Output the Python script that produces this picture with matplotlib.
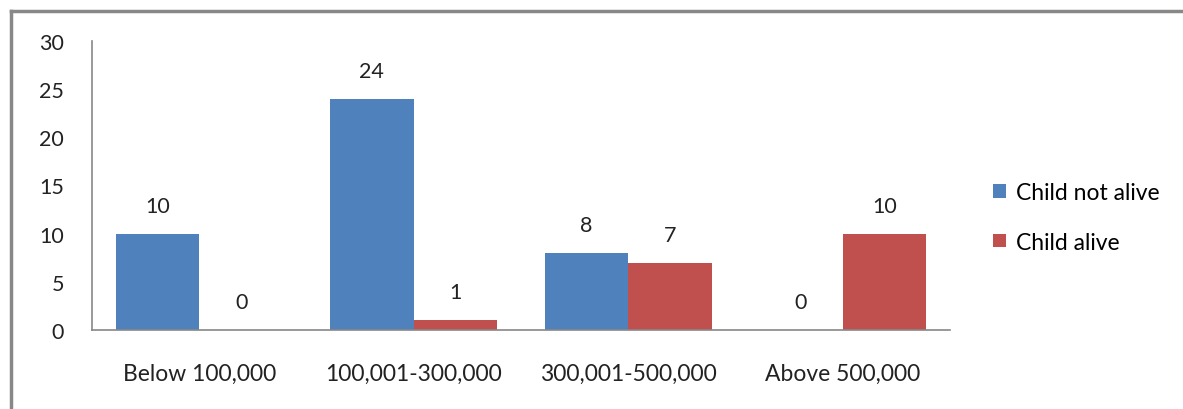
import numpy as np
import matplotlib.pyplot as plt
from matplotlib.lines import Line2D

categories = ['Below 100,000', '100,001-300,000', '300,001-500,000', 'Above 500,000']
not_alive = [10, 24, 8, 0]
alive = [0, 1, 7, 10]

plt.rcParams['font.family'] = ['Lato', 'DejaVu Sans']
fs = 15.5

fig = plt.figure(figsize=(11.83, 4.10), dpi=100)
ax = fig.add_axes([92 / 1183, 79 / 410, (950 - 92) / 1183, (331 - 42) / 410])

x = np.arange(len(categories))
w = 0.39
b1 = ax.bar(x - w / 2, not_alive, w, color='#4F81BD', label='Child not alive')
b2 = ax.bar(x + w / 2, alive, w, color='#C0504D', label='Child alive')

for bars, vals in [(b1, not_alive), (b2, alive)]:
    for r, v in zip(bars, vals):
        ax.annotate(str(v), (r.get_x() + r.get_width() / 2, v),
                    xytext=(0, 28), textcoords='offset pixels',
                    ha='center', va='center', fontsize=fs, color='#222222')

ax.set_xlim(-0.5, 3.5)
ax.set_ylim(0, 30)
ax.set_yticks(range(0, 31, 5))
ax.set_xticks(x)
ax.set_xticklabels(categories, fontsize=16.5)
ax.tick_params(axis='both', length=0, colors='#222222')
ax.tick_params(axis='y', pad=20, labelsize=fs)
ax.tick_params(axis='x', pad=24)

for s in ['top', 'right']:
    ax.spines[s].set_visible(False)
for s in ['left', 'bottom']:
    ax.spines[s].set_color('#888888')
    ax.spines[s].set_linewidth(1.2)

ax.legend(loc='center left', bbox_to_anchor=(1.026, 0.39), frameon=False,
          fontsize=16.5, handlelength=0.55, handleheight=0.55, handletextpad=0.45,
          labelspacing=1.25)

# outer chart border (top and left visible)
fig.add_artist(Line2D([11 / 1183, 11 / 1183], [0, 1 - 12 / 410], color='#888888', lw=2.5))
fig.add_artist(Line2D([11 / 1183, 1], [1 - 12 / 410, 1 - 12 / 410], color='#888888', lw=2.5))

fig.savefig('out.png', dpi=100)
